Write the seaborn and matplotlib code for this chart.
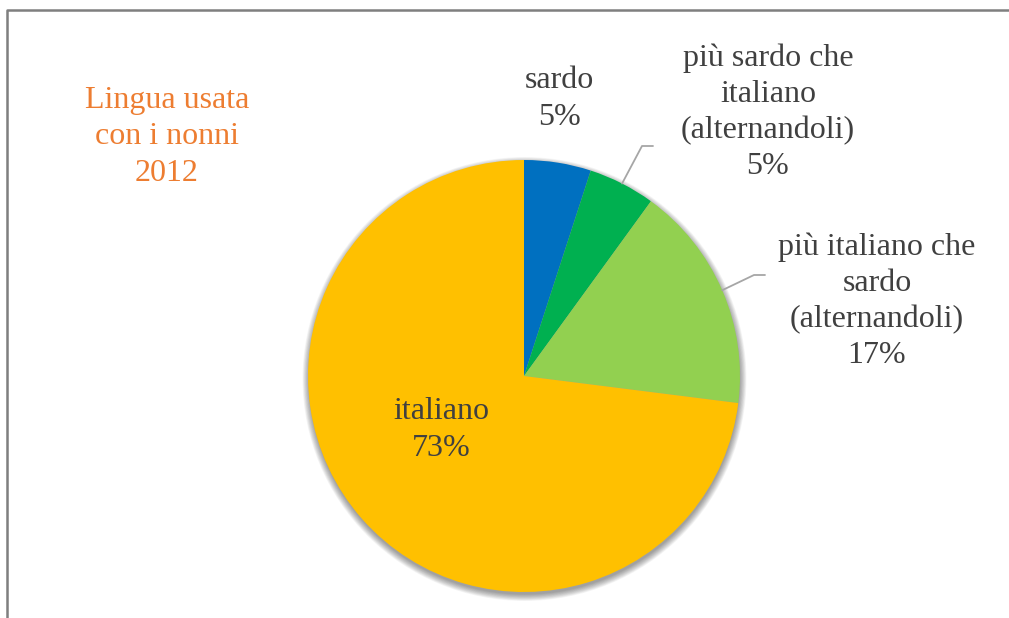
import numpy as np
import matplotlib
matplotlib.use("Agg")
import matplotlib.pyplot as plt
from matplotlib.patches import Circle
from matplotlib.lines import Line2D
import seaborn as sns

# Data
categories = ["sardo", "più sardo che\nitaliano\n(alternandoli)",
              "più italiano che\nsardo\n(alternandoli)", "italiano"]
values = [5, 5, 17, 73]
colors = ["#0070C0", "#00B050", "#92D050", "#FFC000"]
title_text = "Lingua usata\ncon i nonni\n2012"

sns.set_style("white")
plt.rcParams["font.family"] = ["Liberation Serif", "DejaVu Serif"]

W, H = 1009, 618
fig = plt.figure(figsize=(W / 100, H / 100), dpi=100)
ax = fig.add_axes([0, 0, 1, 1])

cx, cy, r = 524, H - 376, 216

# soft drop shadow under the pie
for k in range(12):
    ax.add_patch(Circle((cx + 0.5, cy - 3), r + 6 - k * 0.6, color="#000000",
                        alpha=0.035, lw=0, zorder=1))

wedges, _ = ax.pie(values, colors=colors, startangle=90, counterclock=False,
                   center=(cx, cy), radius=r, frame=True,
                   wedgeprops=dict(linewidth=0, zorder=2))
ax.set_xlim(0, W)
ax.set_ylim(0, H)
ax.set_aspect("equal")
ax.axis("off")

txt_color = "#404040"
fs = 23
lab = [f"{c}\n{v}%" for c, v in zip(categories, values)]

# label positions (pixel coordinates, top-origin)
label_pos = [(559, 99), (768, 112), (877, 301), (441, 430)]
for t, (x, y) in zip(lab, label_pos):
    ax.text(x, H - y, t, ha="center", va="center", fontsize=fs,
            color=txt_color, linespacing=1.32, zorder=5)

# leader lines for the two labels outside the pie
cum = np.cumsum([0] + values)
for i, (ex, ey) in [(1, (642, 146)), (2, (754, 275))]:
    mid = (cum[i] + values[i] / 2) / 100 * 2 * np.pi
    px, py = cx + r * np.sin(mid), cy + r * np.cos(mid)
    ax.add_line(Line2D([px, ex, ex + 11], [py, H - ey, H - ey],
                       color="#A6A6A6", lw=1.3, zorder=4))

ax.text(167, H - 137, title_text, ha="center", va="center", fontsize=fs,
        color="#ED7D31", linespacing=1.32)

# chart frame
ax.add_line(Line2D([6.5, 6.5, W + 5], [-5, H - 9.5, H - 9.5],
                   color="#7F7F7F", lw=1.8, zorder=6))

fig.savefig("out.png", dpi=100)
